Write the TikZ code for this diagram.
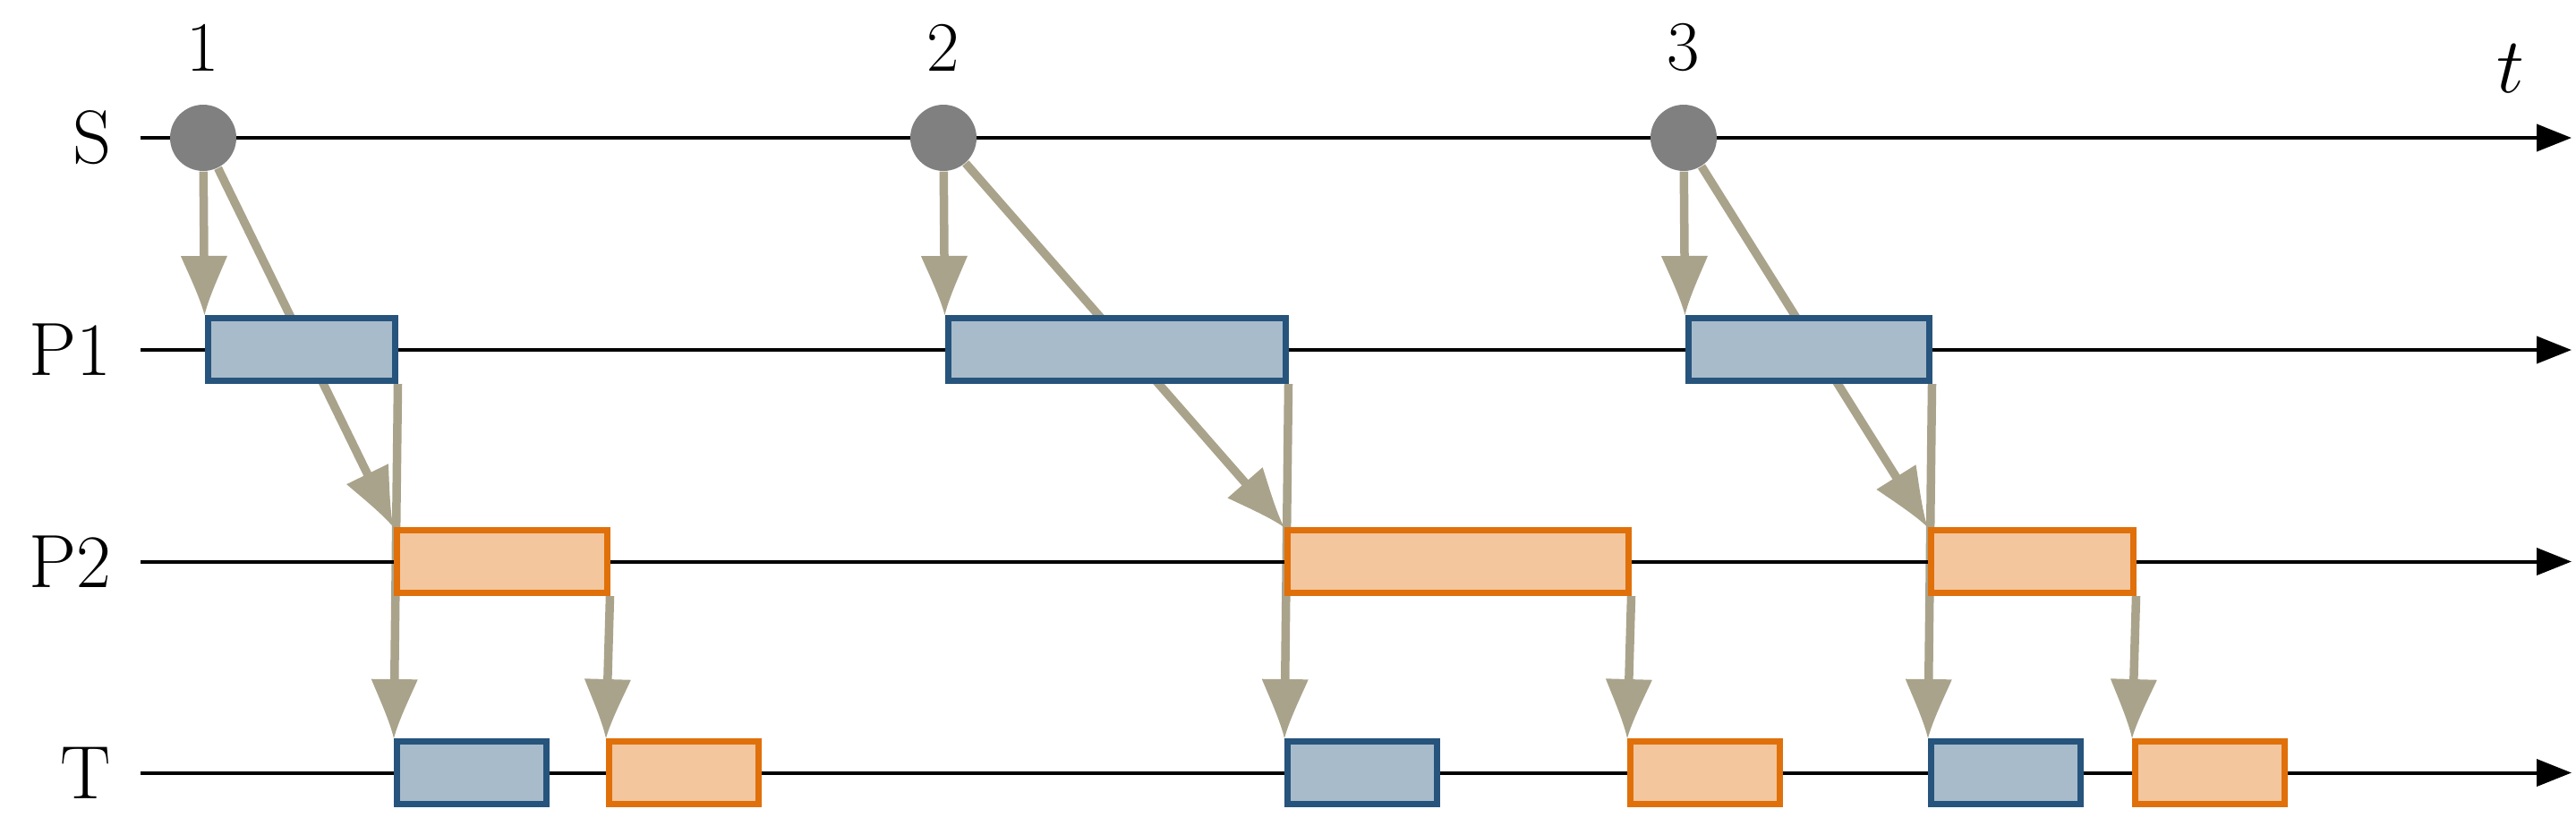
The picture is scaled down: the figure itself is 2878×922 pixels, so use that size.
\documentclass[tikz,border=0pt]{standalone}
\usepackage{fontspec}
\usetikzlibrary{arrows.meta,backgrounds}

\definecolor{jobblue}{RGB}{38,84,124}
\definecolor{joborange}{RGB}{224,112,10}
\definecolor{deptan}{RGB}{169,163,139}

\pgfdeclarearrow{
    name = Flare,
    setup code = {
        \pgfarrowssettipend{0pt}
        \pgfarrowssetbackend{-6.6mm}
        \pgfarrowssetlineend{-5mm}
    },
    drawing code = {
        \pgfpathmoveto{\pgfqpoint{0pt}{0pt}}
        \pgfpathcurveto{\pgfpoint{-1.98mm}{0.5mm}}{\pgfpoint{-4.62mm}{1.75mm}}{\pgfpoint{-6.6mm}{2.6mm}}
        \pgfpathlineto{\pgfpoint{-6.6mm}{-2.6mm}}
        \pgfpathcurveto{\pgfpoint{-4.62mm}{-1.75mm}}{\pgfpoint{-1.98mm}{-0.5mm}}{\pgfqpoint{0pt}{0pt}}
        \pgfpathclose
        \pgfusepathqfill
    }
}

\begin{document}
\begin{tikzpicture}[x=0.1mm, y=-0.1mm,
    axis/.style={line width=0.4mm, -{Triangle[length=3.9mm, width=3mm]}},
    row/.style={font=\fontsize{24}{28}\selectfont, anchor=east, inner sep=0pt},
    ev/.style={circle, fill=gray, minimum size=7.4mm, inner sep=0pt},
    job/.style={draw=#1, fill=#1!40, line width=0.7mm, minimum height=7mm, inner sep=0pt},
    dep/.style={deptan, line width=0.95mm, -Flare}]
    \useasboundingbox (0,0) rectangle (2878,922);

    \foreach \n/\y in {S/154, P1/391, P2/627.5, T/863.5} {
        \coordinate (l\n) at (157,\y);
        \coordinate (r\n) at (2873,\y);
        \draw[axis] (l\n) -- (r\n);
        \node[row] (lab\n) at (125,\y) {\n};
    }
    \node[font=\fontsize{24.88}{30}\selectfont] (tlab) at (2805,77) {$t$};

    \foreach \i/\a/\b/\c in {1/232/441/678, 2/1059/1436/1819, 3/1886/2155/2383} {
        \node[ev] (s\i) at (\a-5,154) {};
        \node[font=\fontsize{22.5}{27}\selectfont] (n\i) at (\a-5,53) {\i};
        \node[job=jobblue, minimum width={(\b-\a)*0.1mm}] (p1\i) at ({(\a+\b)/2},390.5) {};
        \node[job=joborange, minimum width={(\c-\b-2)*0.1mm}] (p2\i) at ({(\b+2+\c)/2},627.5) {};
        \node[job=jobblue, minimum width=16.7mm] (tb\i) at (\b+86,863.5) {};
        \node[job=joborange, minimum width=16.7mm] (to\i) at (\c+86,863.5) {};
    }

    \begin{scope}[on background layer]
        \foreach \i in {1,2,3} {
            \draw[dep] (s\i) -- (p1\i.north west);
            \draw[dep] (s\i) -- (p2\i.north west);
            \draw[dep] (p1\i.south east) -- (tb\i.north west);
            \draw[dep] (p2\i.south east) -- (to\i.north west);
        }
    \end{scope}
\end{tikzpicture}
\end{document}
